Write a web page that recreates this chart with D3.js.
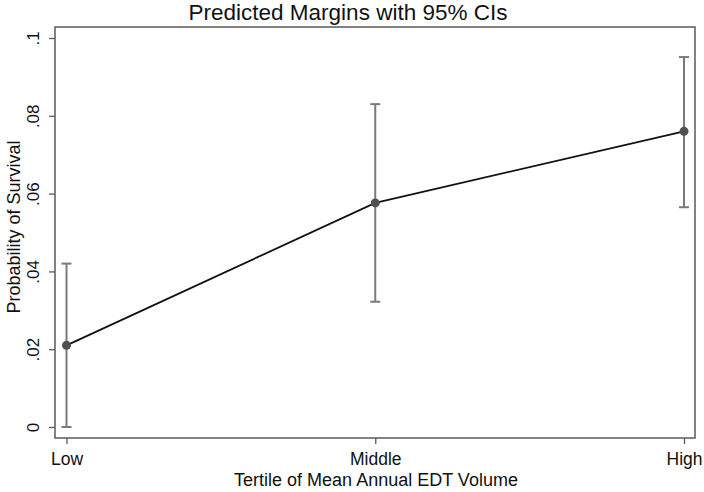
<!DOCTYPE html>
<html>
<head>
<meta charset="utf-8">
<script src="https://cdn.jsdelivr.net/npm/d3@7"></script>
<style>
  body { margin: 0; background: #fff; }
  text { font-family: "Liberation Sans", Arial, sans-serif; }
</style>
</head>
<body>
<div id="chart"></div>
<script>
// data
var categories = ["Low", "Middle", "High"];
var margins = [0.021, 0.0576, 0.076];
var ciLow = [0.0, 0.0322, 0.0565];
var ciHigh = [0.042, 0.083, 0.0951];
var yTicks = [0, 0.02, 0.04, 0.06, 0.08, 0.1];
var yTickLabels = ["0", ".02", ".04", ".06", ".08", ".1"];

var width = 704;
var height = 492;
var frame = {left: 55, top: 27, right: 695, bottom: 438};

var svg = d3.select("#chart")
    .append("svg")
    .attr("width", width)
    .attr("height", height);

// scales
var x = d3.scalePoint()
    .domain(categories)
    .range([66.5, 684]);

var y = d3.scaleLinear()
    .domain([0, 0.1])
    .range([427, 38]);

// plot frame
svg.append("rect")
    .attr("x", frame.left)
    .attr("y", frame.top)
    .attr("width", frame.right - frame.left)
    .attr("height", frame.bottom - frame.top)
    .attr("fill", "none")
    .attr("stroke", "#5a5a5a")
    .attr("stroke-width", 1.5);

// Y axis
var yAxis = svg.append("g")
    .attr("transform", "translate(" + frame.left + ",0)")
    .call(d3.axisLeft(y)
        .tickValues(yTicks)
        .tickSize(6)
        .tickFormat(function (d, i) { return yTickLabels[i]; }));
yAxis.select(".domain").remove();
yAxis.selectAll(".tick line").attr("stroke", "#5a5a5a").attr("stroke-width", 1.3);
yAxis.selectAll(".tick text")
    .attr("transform", "rotate(-90)")
    .attr("x", 0)
    .attr("y", -16)
    .attr("dy", 0)
    .attr("text-anchor", "middle")
    .style("font-size", "17px")
    .attr("fill", "#111");

// X axis
var xAxis = svg.append("g")
    .attr("transform", "translate(0," + frame.bottom + ")")
    .call(d3.axisBottom(x).tickSize(6));
xAxis.select(".domain").remove();
xAxis.selectAll(".tick line").attr("stroke", "#5a5a5a").attr("stroke-width", 1.3);
xAxis.selectAll(".tick text")
    .attr("y", 27)
    .attr("dy", 0)
    .style("font-size", "17.5px")
    .attr("fill", "#111");

// error bars
var bars = svg.append("g");
bars.selectAll("line.ci")
    .data(categories)
    .enter()
    .append("line")
    .attr("x1", function (d) { return x(d); })
    .attr("x2", function (d) { return x(d); })
    .attr("y1", function (d, i) { return y(ciLow[i]); })
    .attr("y2", function (d, i) { return y(ciHigh[i]); })
    .attr("stroke", "#7a7a7a")
    .attr("stroke-width", 2);
[ciLow, ciHigh].forEach(function (arr) {
    bars.selectAll(null)
        .data(categories)
        .enter()
        .append("line")
        .attr("x1", function (d) { return x(d) - 5; })
        .attr("x2", function (d) { return x(d) + 5; })
        .attr("y1", function (d, i) { return y(arr[i]); })
        .attr("y2", function (d, i) { return y(arr[i]); })
        .attr("stroke", "#7a7a7a")
        .attr("stroke-width", 2);
});

// connecting line
var line = d3.line()
    .x(function (d, i) { return x(categories[i]); })
    .y(function (d) { return y(d); });
svg.append("path")
    .datum(margins)
    .attr("d", line)
    .attr("fill", "none")
    .attr("stroke", "#111")
    .attr("stroke-width", 1.8);

// points
svg.append("g")
    .selectAll("circle")
    .data(margins)
    .enter()
    .append("circle")
    .attr("cx", function (d, i) { return x(categories[i]); })
    .attr("cy", function (d) { return y(d); })
    .attr("r", 4.5)
    .attr("fill", "#505050");

// Title
svg.append("text")
    .attr("x", 348)
    .attr("y", 20)
    .attr("text-anchor", "middle")
    .style("font-size", "22.5px")
    .attr("fill", "#111")
    .text("Predicted Margins with 95% CIs");

// X label
svg.append("text")
    .attr("x", 376)
    .attr("y", 486)
    .attr("text-anchor", "middle")
    .style("font-size", "18px")
    .attr("fill", "#111")
    .text("Tertile of Mean Annual EDT Volume");

// Y label
svg.append("text")
    .attr("transform", "rotate(-90)")
    .attr("x", -227)
    .attr("y", 20)
    .attr("text-anchor", "middle")
    .style("font-size", "18px")
    .attr("fill", "#111")
    .text("Probability of Survival");
</script>
</body>
</html>
